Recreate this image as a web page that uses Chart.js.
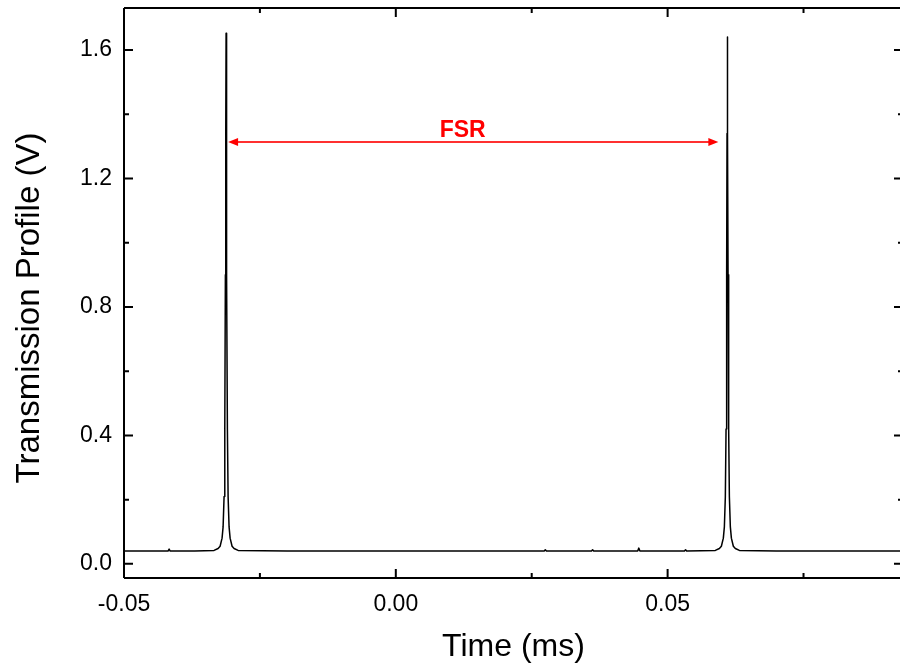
<!DOCTYPE html>
<html lang="en">
<head>
    <meta charset="UTF-8">
    <title>Transmission Profile</title>
    <style>
        html, body { margin: 0; padding: 0; overflow: hidden; background: #fff; }
        #wrap { width: 903px; height: 666px; }
    </style>
</head>
<body>
    <div id="wrap"><canvas id="chart"></canvas></div>

    <script src="https://cdn.jsdelivr.net/npm/chart.js"></script>
    <script>
        // Time (ms) and transmission (V)
        const times = [
            -0.0500, -0.0460, -0.0419, -0.0417, -0.0415, -0.0370,
            -0.03343, -0.03269, -0.03232, -0.03196, -0.03177, -0.03159, -0.03146, -0.03135, -0.03128,
            -0.03122,
            -0.03117, -0.03109, -0.03098, -0.03085, -0.03067, -0.03048, -0.03012, -0.02975, -0.02901,
            -0.0200, -0.0100, 0.0000, 0.0100, 0.0200,
            0.0273, 0.0275, 0.0277, 0.0360, 0.0362, 0.0364,
            0.0445, 0.0447, 0.0449, 0.0531, 0.0533, 0.0535,
            0.05878, 0.05952, 0.05989, 0.06025, 0.06044, 0.06062, 0.06075, 0.06086, 0.06093,
            0.06099,
            0.06104, 0.06112, 0.06123, 0.06136, 0.06154, 0.06173, 0.06209, 0.06246, 0.06320,
            0.0700, 0.0800, 0.0933
        ];
        const volts = [
            0.040, 0.040, 0.040, 0.046, 0.040, 0.040,
            0.042, 0.048, 0.055, 0.080, 0.115, 0.210, 0.420, 0.900, 1.350,
            1.652,
            1.350, 0.900, 0.420, 0.210, 0.115, 0.080, 0.055, 0.048, 0.042,
            0.040, 0.040, 0.040, 0.040, 0.040,
            0.040, 0.044, 0.040, 0.040, 0.044, 0.040,
            0.040, 0.049, 0.040, 0.040, 0.044, 0.040,
            0.042, 0.048, 0.055, 0.080, 0.115, 0.210, 0.420, 0.900, 1.340,
            1.641,
            1.340, 0.900, 0.420, 0.210, 0.115, 0.080, 0.055, 0.048, 0.042,
            0.040, 0.040, 0.040
        ];
        const xMajor = [-0.05, 0.00, 0.05];
        const xMinor = [-0.025, 0.025, 0.075];
        const yMajor = [0.0, 0.4, 0.8, 1.2, 1.6];
        const yMinor = [0.2, 0.6, 1.0, 1.4];
        const fsrFrom = -0.03122, fsrTo = 0.06099, fsrLevel = 1.314, fsrLabelX = 0.0123;
        const yTitle = 'Transmission Profile (V)';

        const FONT = '"Liberation Sans", Arial, sans-serif';

        // frame, inward ticks, y title and the FSR arrow
        const framePlugin = {
            id: 'frame',
            afterDatasetsDraw(chart) {
                const { ctx, chartArea: a, scales: { x, y } } = chart;
                ctx.save();
                ctx.strokeStyle = '#000';
                ctx.lineWidth = 2;
                ctx.beginPath();
                ctx.moveTo(a.left, a.bottom); ctx.lineTo(a.right, a.bottom);
                ctx.moveTo(a.left, a.top); ctx.lineTo(a.right, a.top);
                ctx.moveTo(a.left, a.top); ctx.lineTo(a.left, a.bottom);
                ctx.moveTo(a.right, a.top); ctx.lineTo(a.right, a.bottom);
                ctx.stroke();

                const tick = (vals, len) => {
                    vals.forEach(v => {
                        const px = x.getPixelForValue(v);
                        ctx.moveTo(px, a.bottom); ctx.lineTo(px, a.bottom - len);
                        ctx.moveTo(px, a.top); ctx.lineTo(px, a.top + len);
                    });
                };
                const tickY = (vals, len) => {
                    vals.forEach(v => {
                        const py = y.getPixelForValue(v);
                        ctx.moveTo(a.left, py); ctx.lineTo(a.left + len, py);
                        ctx.moveTo(a.right, py); ctx.lineTo(a.right - len, py);
                    });
                };
                ctx.beginPath();
                tick(xMajor, 9); tick(xMinor, 5);
                tickY(yMajor, 9); tickY(yMinor, 5);
                ctx.stroke();

                // y axis title, sits a little below the middle of the frame
                ctx.save();
                ctx.translate(30, (a.top + a.bottom) / 2 + 15);
                ctx.rotate(-Math.PI / 2);
                ctx.fillStyle = '#000';
                ctx.font = '33px ' + FONT;
                ctx.textAlign = 'center';
                ctx.textBaseline = 'middle';
                ctx.fillText(yTitle, 0, 0);
                ctx.restore();

                // FSR arrow
                const x1 = x.getPixelForValue(fsrFrom) + 2;
                const x2 = x.getPixelForValue(fsrTo) - 9;
                const yy = y.getPixelForValue(fsrLevel);
                ctx.strokeStyle = '#ff3030';
                ctx.fillStyle = '#ff0000';
                ctx.lineWidth = 2;
                ctx.beginPath();
                ctx.moveTo(x1 + 6, yy); ctx.lineTo(x2 - 6, yy);
                ctx.stroke();
                ctx.beginPath();
                ctx.moveTo(x1, yy); ctx.lineTo(x1 + 10, yy - 4); ctx.lineTo(x1 + 10, yy + 4); ctx.closePath();
                ctx.moveTo(x2, yy); ctx.lineTo(x2 - 10, yy - 4); ctx.lineTo(x2 - 10, yy + 4); ctx.closePath();
                ctx.fill();

                ctx.font = 'bold 23px ' + FONT;
                ctx.textAlign = 'center';
                ctx.textBaseline = 'alphabetic';
                ctx.fillText('FSR', x.getPixelForValue(fsrLabelX), yy - 5);
                ctx.restore();
            }
        };

        new Chart(document.getElementById('chart'), {
            type: 'line',
            data: {
                datasets: [{
                    data: times.map((t, i) => ({ x: t, y: volts[i] })),
                    borderColor: '#000',
                    borderWidth: 1.5,
                    borderJoinStyle: 'round',
                    pointRadius: 0,
                    tension: 0,
                    fill: false
                }]
            },
            options: {
                responsive: true,
                maintainAspectRatio: false,
                animation: false,
                layout: { padding: { top: 8, right: 0, left: 0, bottom: 0 } },
                plugins: { legend: { display: false }, tooltip: { enabled: false } },
                scales: {
                    x: {
                        type: 'linear',
                        min: -0.05,
                        max: 0.0933,
                        grid: { display: false },
                        border: { display: false },
                        afterBuildTicks: s => { s.ticks = xMajor.map(v => ({ value: v })); },
                        afterFit: s => { s.height = 88; s.paddingLeft = 0; s.paddingRight = 0; },
                        ticks: {
                            padding: 5,
                            color: '#000',
                            font: { family: FONT, size: 23 },
                            callback: v => v.toFixed(2)
                        },
                        title: {
                            display: true,
                            text: 'Time (ms)',
                            color: '#000',
                            font: { family: FONT, size: 32 },
                            padding: { top: 0, bottom: 0 }
                        }
                    },
                    y: {
                        min: -0.044,
                        max: 1.731,
                        grid: { display: false },
                        border: { display: false },
                        afterBuildTicks: s => { s.ticks = yMajor.map(v => ({ value: v })); },
                        afterFit: s => { s.width = 124; s.paddingTop = 0; s.paddingBottom = 0; },
                        ticks: {
                            padding: 4,
                            color: '#000',
                            font: { family: FONT, size: 23 },
                            callback: v => v.toFixed(1)
                        }
                    }
                }
            },
            plugins: [framePlugin]
        });
    </script>
</body>
</html>
